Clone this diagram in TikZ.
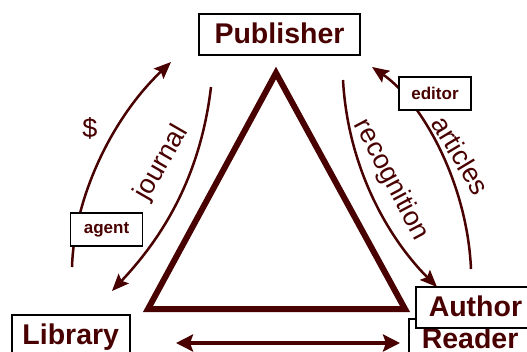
\documentclass[tikz,border=0pt]{standalone}
\usepackage{fontspec}
\setmainfont{Liberation Sans}
\usetikzlibrary{arrows.meta}
\definecolor{wine}{RGB}{72,0,0}
\newcommand{\bigbold}{\fontsize{28.5}{30}\selectfont\bfseries}
\newcommand{\smallbold}{\fontsize{17}{19}\selectfont\bfseries}
\newcommand{\flowfont}{\fontsize{27}{29}\selectfont}

\begin{document}
\begin{tikzpicture}[x=1pt,y=-1pt,
  role/.style={draw=black,line width=1.5pt,fill=white,text=wine,font=\bigbold,
    text height=20pt,text depth=2pt,inner ysep=9.5pt},
  tag/.style={draw=black,line width=1.5pt,fill=white,text=wine,font=\smallbold,
    minimum width=72pt,minimum height=33pt,inner sep=0pt},
  flow/.style={wine,line width=2.5pt,-{Stealth[length=17pt,width=14pt,inset=3pt]}},
  lbl/.style={text=wine,font=\flowfont}]
\clip (0,0) rectangle (527,351);
\fill[white] (0,0) rectangle (527,351);

\coordinate (top) at (276,73);
\coordinate (right) at (405,309);
\coordinate (left) at (148,309);
\draw[wine,line width=6pt] (top) -- (right) -- (left) -- cycle;

\coordinate (payS) at (72,267);
\coordinate (payE) at (171,62);
\coordinate (jourS) at (211,87);
\coordinate (jourE) at (112,291);
\coordinate (recS) at (343,80);
\coordinate (recE) at (437,287);
\coordinate (artS) at (471,269);
\coordinate (artE) at (372,67);
\draw[flow] (payS) .. controls (74,200) and (110,120) .. (payE);
\draw[flow] (jourS) .. controls (200,180) and (160,240) .. (jourE);
\draw[flow] (recS) .. controls (348,170) and (390,240) .. (recE);
\draw[flow] (artS) .. controls (467,180) and (420,100) .. (artE);

\node[lbl] (dollar) at (90,128) {\$};
\node[lbl,rotate=60] (journal) at (162,163) {journal};
\node[lbl,rotate=-62] (recog) at (391,180) {recognition};
\node[lbl,rotate=-59] (articles) at (461,155) {articles};

\node[role,minimum width=161pt,anchor=north] (pub) at (279.5,13) {Publisher};
\node[role,minimum width=118pt,anchor=north west] (lib) at (11,314) {Library};
\node[role,anchor=north west,text width=110pt,align=left,inner xsep=13pt] (reader) at (408,318) {Reader};
\node[role,anchor=north west,text width=110pt,align=left,inner xsep=13pt] (author) at (415,286) {Author};
\node[tag] (agent) at (106.5,229.5) {agent};
\node[tag] (editor) at (435,93.5) {editor};

\coordinate (libEnd) at (176,343);
\coordinate (readEnd) at (400,343);
\draw[wine,line width=4.5pt,{Stealth[length=17pt,width=17pt,inset=3pt]}-{Stealth[length=17pt,width=17pt,inset=3pt]}] (libEnd) -- (readEnd);
\end{tikzpicture}
\end{document}
